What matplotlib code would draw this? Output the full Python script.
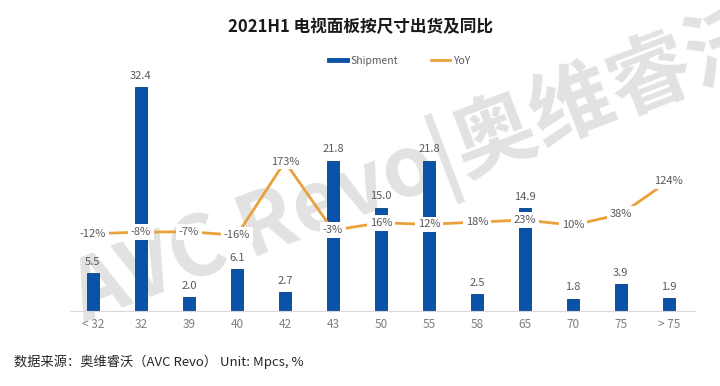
import matplotlib
matplotlib.use("Agg")
import matplotlib.pyplot as plt
from matplotlib.lines import Line2D

plt.rcParams['font.family'] = ['Noto Sans CJK SC', 'DejaVu Sans']

categories = ['< 32', '32', '39', '40', '42', '43', '50', '55', '58', '65', '70', '75', '> 75']
shipment = [5.5, 32.4, 2.0, 6.1, 2.7, 21.8, 15.0, 21.8, 2.5, 14.9, 1.8, 3.9, 1.9]
yoy = [-12, -8, -7, -16, 173, -3, 16, 12, 18, 23, 10, 38, 124]

BLUE = '#0a52a8'
ORANGE = '#e9a23b'
GRAY = '#7f7f7f'

fig = plt.figure(figsize=(7.2, 3.86), dpi=100)
ax = fig.add_axes([0.097, 0.194, 0.868, 0.626])
ax2 = ax.twinx()

# watermark
fig.text(0.585, 0.565, 'AVC Revo|奥维睿沃', fontsize=60, fontweight='bold',
         color='#e2e2e2', rotation=21, ha='center', va='center',
         rotation_mode='anchor', zorder=0, clip_on=True)
ax.set_zorder(2)
ax2.set_zorder(3)
ax.patch.set_visible(False)
ax2.patch.set_visible(False)

x = list(range(len(categories)))
ax.bar(x, shipment, width=0.25, color=BLUE, edgecolor='#0b3f80', linewidth=0.6, zorder=2)
for xi, v in zip(x, shipment):
    ax.text(xi, v + 0.9, f'{v:.1f}', ha='center', va='bottom', fontsize=8, color='#595959')

ax.set_xlim(-0.48, 12.54)
ax.set_ylim(0, 35)
ax.set_xticks(x)
ax.set_xticklabels(categories, fontsize=8.5, color=GRAY)
ax.tick_params(axis='x', length=0, pad=5)
ax.set_yticks([])
for s in ['top', 'right', 'left']:
    ax.spines[s].set_visible(False)
ax.spines['bottom'].set_color('#d9d9d9')

ax2.plot(x, yoy, color=ORANGE, linewidth=2, zorder=3)
for xi, v in zip(x, yoy):
    ax2.text(xi, v, f'{v}%', ha='center', va='center', fontsize=8, color='#595959',
             bbox=dict(boxstyle='square,pad=0.25', fc='white', ec='none'), zorder=4)
ax2.set_ylim(-211, 410)
ax2.set_yticks([])
for s in ['top', 'right', 'left', 'bottom']:
    ax2.spines[s].set_visible(False)

fig.text(0.5, 0.93, '2021H1 电视面板按尺寸出货及同比', ha='center', va='center',
         fontsize=12, fontweight='bold', color='#1a1a1a')

handles = [Line2D([0], [0], color=BLUE, lw=3.5), Line2D([0], [0], color=ORANGE, lw=2)]
fig.legend(handles, ['Shipment', 'YoY'], loc='center', bbox_to_anchor=(0.555, 0.842),
           ncol=2, frameon=False, fontsize=7.5, labelcolor='#595959',
           handlelength=1.8, handletextpad=0.3, columnspacing=3.2)

fig.text(0.02, 0.062, '数据来源：奥维睿沃（AVC Revo） Unit: Mpcs, %', ha='left', va='center',
         fontsize=9.5, color='#262626')

fig.savefig('out.png', dpi=100)
